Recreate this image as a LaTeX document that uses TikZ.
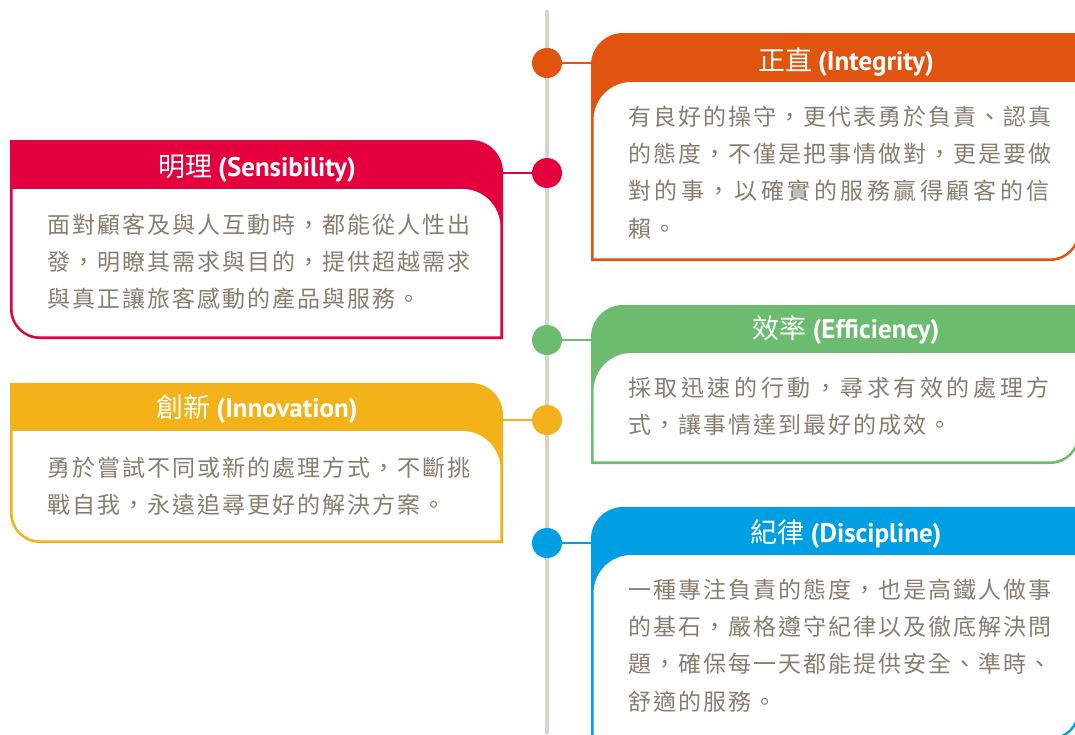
\documentclass[tikz,border=0pt]{standalone}
\usepackage{fontspec}
\setmainfont{Noto Sans CJK TC}
\newfontfamily\cjk{Noto Sans CJK TC}
\newfontfamily\cjkbody[LetterSpace=8.7]{Noto Sans CJK TC}
\newfontfamily\enb{PT Sans}
\definecolor{corange}{HTML}{E0540F}
\definecolor{cred}{HTML}{E3003C}
\definecolor{cgreen}{HTML}{6BBC6E}
\definecolor{cyellow}{HTML}{F3B21A}
\definecolor{cblue}{HTML}{009FE3}
\definecolor{linegray}{HTML}{D8D3CB}
\definecolor{txt}{HTML}{8A7D6F}
\newcommand\wide[1]{{\addfontfeature{LetterSpace=15.5}#1}}
\newcommand\en[1]{{\enb\bfseries #1}}
\newcommand\cardleft[6]{% color,L,R,T,H,B
  \fill[#1] (#2,-#4) -- ({#3-32},-#4) arc[start angle=90,end angle=0,radius=32]
    -- (#3,-#6) -- ({#2+30},-#6) arc[start angle=270,end angle=180,radius=30] -- cycle;
  \fill[white] ({#2+2.6},-#5) -- ({#3-2.6-38},-#5) arc[start angle=90,end angle=0,radius=38]
    -- ({#3-2.6},{-#6+2.6}) -- ({#2+2.6+27.4},{-#6+2.6}) arc[start angle=270,end angle=180,radius=27.4] -- cycle;
}
\newcommand\cardright[6]{% color,L,R,T,H,B
  \fill[#1] (#3,-#4) -- ({#2+32},-#4) arc[start angle=90,end angle=180,radius=32]
    -- (#2,-#6) -- ({#3-30},-#6) arc[start angle=270,end angle=360,radius=30] -- cycle;
  \fill[white] ({#3-2.6},-#5) -- ({#2+2.6+38},-#5) arc[start angle=90,end angle=180,radius=38]
    -- ({#2+2.6},{-#6+2.6}) -- ({#3-2.6-27.4},{-#6+2.6}) arc[start angle=270,end angle=360,radius=27.4] -- cycle;
}
\tikzset{
  conn/.style={line width=2.6pt, draw=#1},
  dotnode/.style={circle, fill=#1, minimum size=30pt, inner sep=0pt},
  titletext/.style={text=white, font=\fontsize{27}{30}\selectfont\cjk, anchor=base, inner sep=0pt},
  bodytext/.style={text=txt, font=\fontsize{23}{37.3}\selectfont\cjkbody, align=left, anchor=north west, inner sep=0pt},
  vline/.style={draw=linegray, line width=4pt},
}
\begin{document}
\begin{tikzpicture}[x=1pt,y=1pt]
\useasboundingbox (0,0) rectangle (1075,-734);
\fill[white] (0,0) rectangle (1075,-734);
% timeline
\coordinate (ltop) at (547,-10);
\coordinate (lbot) at (547,-734);
\draw[vline] (ltop) -- (lbot);
% dots
\node[dotnode=corange] (d1) at (547,-63) {};
\node[dotnode=cred] (d2) at (547,-173) {};
\node[dotnode=cgreen] (d3) at (547,-340) {};
\node[dotnode=cyellow] (d4) at (547,-420) {};
\node[dotnode=cblue] (d5) at (547,-543) {};
% connector ends
\coordinate (e1) at (595,-63);
\coordinate (e2) at (500,-173);
\coordinate (e3) at (595,-340);
\coordinate (e4) at (500,-420);
\coordinate (e5) at (595,-543);
\draw[conn=corange] (d1) -- (e1);
\draw[conn=cred] (e2) -- (d2);
\draw[conn=cgreen] (d3) -- (e3);
\draw[conn=cyellow] (e4) -- (d4);
\draw[conn=cblue] (d5) -- (e5);
% cards
\cardleft{cred}{10}{503}{140}{189}{339}
\cardleft{cyellow}{10}{503}{383}{431}{543}
\cardright{corange}{591}{1080}{33}{82}{261}
\cardright{cgreen}{591}{1080}{305}{353}{464}
\cardright{cblue}{591}{1080}{507}{555}{740}
% titles
\node[titletext] (t2) at (257,-176) {明理 \en{(Sensibility)}};
\node[titletext] (t4) at (257,-417) {創新 \en{(Innovation)}};
\node[titletext] (t1) at (846,-70) {正直 \en{(Integrity)}};
\node[titletext] (t3) at (846,-338) {效率 \en{(Efficiency)}};
\node[titletext] (t5) at (846,-542) {紀律 \en{(Discipline)}};
% bodies
\node[bodytext] (b2) at (47,-213.5) {面對顧客及與人互動時，都能從人性出\\發，明瞭其需求與目的，提供超越需求\\與真正讓旅客感動的產品與服務。};
\node[bodytext] (b4) at (47,-456.5) {勇於嘗試不同或新的處理方式，不斷挑\\戰自我，永遠追尋更好的解決方案。};
\node[bodytext] (b1) at (628,-105.5) {有良好的操守，更代表勇於負責、認真\\的態度，不僅是把事情做對，更是要做\\\wide{對的事，以確實的服務贏得顧客的信}\\賴。};
\node[bodytext] (b3) at (628,-376.5) {\wide{採取迅速的行動，尋求有效的處理方}\\式，讓事情達到最好的成效。};
\node[bodytext] (b5) at (628,-578.5) {一種專注負責的態度，也是高鐵人做事\\的基石，嚴格遵守紀律以及徹底解決問\\題，確保每一天都能提供安全、準時、\\舒適的服務。};
\end{tikzpicture}
\end{document}
